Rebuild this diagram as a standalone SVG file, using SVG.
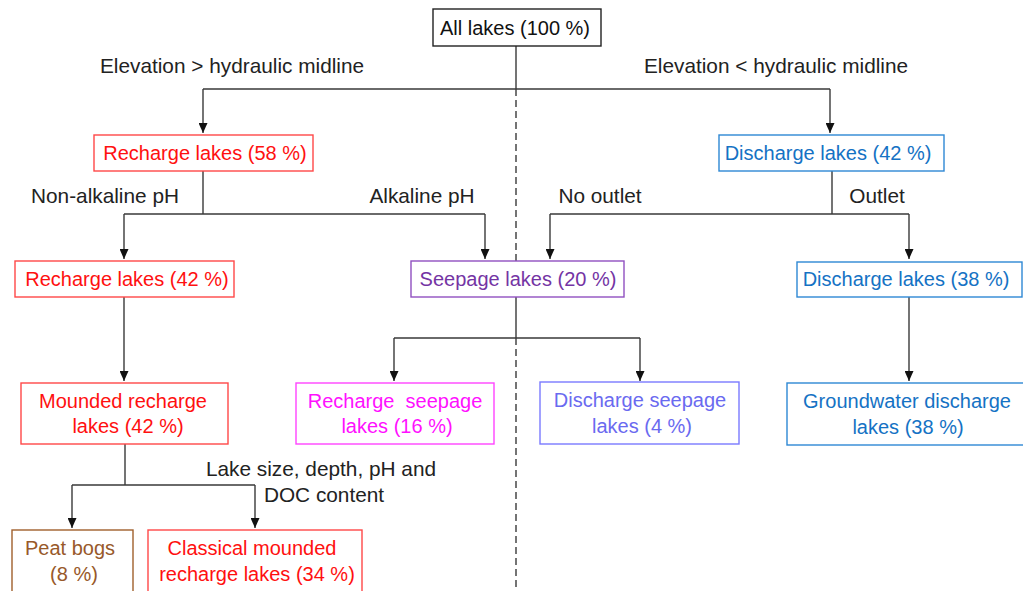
<svg xmlns="http://www.w3.org/2000/svg" width="1023" height="591" viewBox="0 0 1023 591">
<style>
text{font-family:"Liberation Sans",Arial,sans-serif;font-size:20px;text-anchor:middle}
#labels text{font-size:20.8px;fill:#222}
.box{fill:#fff;stroke-width:1.4}
.ln{fill:none;stroke:#3a3a3a;stroke-width:1.4}
.red rect{stroke:#ff4848}.red text{fill:#ff1010}
.blue rect{stroke:#2e88d4}.blue text{fill:#1572c4}
.purple rect{stroke:#9050c0}.purple text{fill:#7434a4}
.mag rect{stroke:#ff44ff}.mag text{fill:#ff10ff}
.vio rect{stroke:#7a7aff}.vio text{fill:#6a6af0}
.brown rect{stroke:#a0602c}.brown text{fill:#98592a}
.blk rect{stroke:#222}.blk text{fill:#111}
</style>
<defs>
<marker id="ah" markerUnits="userSpaceOnUse" markerWidth="10" markerHeight="9" refX="10" refY="4.5" orient="auto">
<path d="M0,0 L10,4.5 L0,9 z" fill="#111"/>
</marker>
</defs>
<rect width="1023" height="591" fill="#fff"/>
<g id="connectors">
<path class="ln" d="M516,89 V297 M516,338 V591" stroke-dasharray="7,4"/>
<path class="ln" d="M516,46 V89 M203,89 H830"/>
<path class="ln" d="M203,89 V133" marker-end="url(#ah)"/>
<path class="ln" d="M830,89 V133" marker-end="url(#ah)"/>
<path class="ln" d="M203,171 V214 M124,214 H485"/>
<path class="ln" d="M124,214 V259" marker-end="url(#ah)"/>
<path class="ln" d="M485,214 V259" marker-end="url(#ah)"/>
<path class="ln" d="M832,171 V214 M550,214 H909"/>
<path class="ln" d="M550,214 V259" marker-end="url(#ah)"/>
<path class="ln" d="M909,214 V259" marker-end="url(#ah)"/>
<path class="ln" d="M124,297 V381" marker-end="url(#ah)"/>
<path class="ln" d="M516,297 V338 M394,338 H640"/>
<path class="ln" d="M394,338 V381" marker-end="url(#ah)"/>
<path class="ln" d="M640,338 V381" marker-end="url(#ah)"/>
<path class="ln" d="M909,297 V381" marker-end="url(#ah)"/>
<path class="ln" d="M125,444 V485 M72,485 H255"/>
<path class="ln" d="M72,485 V528" marker-end="url(#ah)"/>
<path class="ln" d="M255,485 V528" marker-end="url(#ah)"/>
</g>
<g id="labels">
<text x="232" y="73">Elevation &gt; hydraulic midline</text>
<text x="776" y="73">Elevation &lt; hydraulic midline</text>
<text x="105" y="203">Non-alkaline pH</text>
<text x="422" y="203">Alkaline pH</text>
<text x="600" y="203">No outlet</text>
<text x="877" y="203">Outlet</text>
<text x="321" y="476">Lake size, depth, pH and</text>
<text x="324" y="502">DOC content</text>
</g>
<g id="all-lakes" class="blk"><rect class="box" x="433" y="9" width="168" height="37"/><text x="515" y="35">All lakes (100 %)</text></g>
<g id="recharge-58" class="red"><rect class="box" x="94" y="135" width="219" height="36"/><text x="205" y="160">Recharge lakes (58 %)</text></g>
<g id="discharge-42" class="blue"><rect class="box" x="719" y="135" width="225" height="36"/><text x="828" y="160">Discharge lakes (42 %)</text></g>
<g id="recharge-42" class="red"><rect class="box" x="15" y="261" width="219" height="36"/><text x="127" y="286">Recharge lakes (42 %)</text></g>
<g id="seepage-20" class="purple"><rect class="box" x="411" y="261" width="213" height="36"/><text x="518" y="286">Seepage lakes (20 %)</text></g>
<g id="discharge-38" class="blue"><rect class="box" x="797" y="262" width="225" height="35"/><text x="906" y="286">Discharge lakes (38 %)</text></g>
<g id="mounded" class="red"><rect class="box" x="21" y="383" width="207" height="61"/><text x="123" y="408">Mounded recharge</text><text x="128" y="433">lakes (42 %)</text></g>
<g id="recharge-seepage" class="mag"><rect class="box" x="296" y="383" width="198" height="61"/><text x="395" y="408" xml:space="preserve">Recharge  seepage</text><text x="397" y="433">lakes (16 %)</text></g>
<g id="discharge-seepage" class="vio"><rect class="box" x="540" y="382" width="199" height="62"/><text x="640" y="407">Discharge seepage</text><text x="642" y="433">lakes (4 %)</text></g>
<g id="groundwater" class="blue"><rect class="box" x="787" y="383" width="240" height="62"/><text x="907" y="408">Groundwater discharge</text><text x="908" y="434">lakes (38 %)</text></g>
<g id="peat-bogs" class="brown"><rect class="box" x="12" y="530" width="121" height="70"/><text x="70" y="555">Peat bogs</text><text x="74" y="581">(8 %)</text></g>
<g id="classical" class="red"><rect class="box" x="148" y="530" width="214" height="70"/><text x="252" y="555">Classical mounded</text><text x="257" y="581">recharge lakes (34 %)</text></g>
</svg>
